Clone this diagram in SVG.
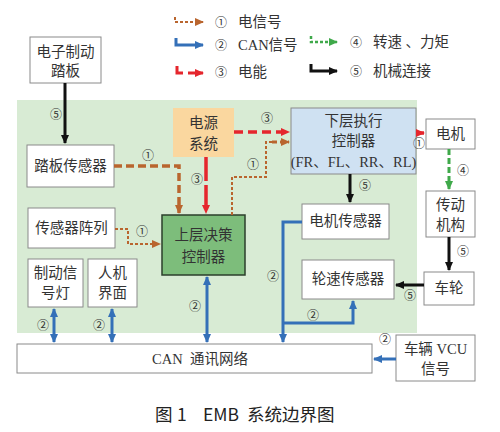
<svg xmlns="http://www.w3.org/2000/svg" width="500" height="432" viewBox="0 0 500 432">
<defs>
<style>
.box{fill:#fff;stroke:#8a8a8a;stroke-width:1}
.t{font-family:"Liberation Serif","Noto Sans CJK SC",serif;font-size:14.5px;fill:#333;text-anchor:middle}
.n{font-family:"Liberation Serif","Noto Sans CJK SC",serif;font-size:12px;fill:#333;text-anchor:middle}
.lg{font-family:"Liberation Serif","Noto Sans CJK SC",serif;font-size:14.5px;fill:#333}
.cap{font-family:"Noto Sans CJK SC","Liberation Sans",sans-serif;font-size:17.5px;fill:#222}
.brD{fill:none;stroke:#b9652e;stroke-width:3.5;stroke-dasharray:8 4}
.brd{fill:none;stroke:#b9652e;stroke-width:2;stroke-dasharray:3 2}
.red{fill:none;stroke:#e5262d;stroke-width:3.5;stroke-dasharray:9 5}
.blu{fill:none;stroke:#3470b8;stroke-width:3}
.grn{fill:none;stroke:#3fa94a;stroke-width:3;stroke-dasharray:6 3}
.blk{fill:none;stroke:#111;stroke-width:3}
</style>
<marker id="aBr" markerWidth="9" markerHeight="8" refX="8" refY="4" orient="auto" markerUnits="userSpaceOnUse"><path d="M0,0 L9,4 L0,8 Z" fill="#b9652e"/></marker>
<marker id="aRd" markerWidth="9" markerHeight="8" refX="8" refY="4" orient="auto" markerUnits="userSpaceOnUse"><path d="M0,0 L9,4 L0,8 Z" fill="#e5262d"/></marker>
<marker id="aBl" markerWidth="9" markerHeight="8" refX="8" refY="4" orient="auto" markerUnits="userSpaceOnUse"><path d="M0,0 L9,4 L0,8 Z" fill="#3470b8"/></marker>
<marker id="aBls" markerWidth="9" markerHeight="8" refX="1" refY="4" orient="auto" markerUnits="userSpaceOnUse"><path d="M9,0 L0,4 L9,8 Z" fill="#3470b8"/></marker>
<marker id="aGr" markerWidth="9" markerHeight="8" refX="8" refY="4" orient="auto" markerUnits="userSpaceOnUse"><path d="M0,0 L9,4 L0,8 Z" fill="#3fa94a"/></marker>
<marker id="aBk" markerWidth="9" markerHeight="8" refX="8" refY="4" orient="auto" markerUnits="userSpaceOnUse"><path d="M0,0 L9,4 L0,8 Z" fill="#111"/></marker>
</defs>
<rect width="500" height="432" fill="#fff"/>
<rect x="17" y="100" width="400" height="233" fill="#d8ebd4"/>

<g id="legend">
<path class="brd" d="M175,17 V22 H203" marker-end="url(#aBr)"/>
<text class="n" x="221" y="27">①</text><text class="lg" x="238" y="27">电信号</text>
<path class="blu" d="M176,38 V45 H203" marker-end="url(#aBl)"/>
<text class="n" x="221" y="50">②</text><text class="lg" x="238" y="50">CAN信号</text>
<path class="red" d="M177,66 V73 H183 M188,73 H203" style="stroke-dasharray:none;stroke-width:3" marker-end="url(#aRd)"/>
<text class="n" x="221" y="77">③</text><text class="lg" x="238" y="77">电能</text>
<path class="grn" d="M311,36 V42 H337" style="stroke-dasharray:3 2;stroke-width:2.5" marker-end="url(#aGr)"/>
<text class="n" x="356" y="47">④</text><text class="lg" x="373" y="47">转速 、力矩</text>
<path class="blk" d="M311,64 V71 H337" marker-end="url(#aBk)"/>
<text class="n" x="356" y="76">⑤</text><text class="lg" x="373" y="76">机械连接</text>
</g>

<g id="pedal"><rect class="box" x="30" y="37" width="71" height="46"/><text class="t" x="65.5" y="57">电子制动</text><text class="t" x="65.5" y="76">踏板</text></g>
<g id="pedalSensor"><rect class="box" x="27" y="145" width="87" height="42"/><text class="t" x="70.5" y="171">踏板传感器</text></g>
<g id="sensorArray"><rect class="box" x="28" y="208" width="87" height="40"/><text class="t" x="71.5" y="233">传感器阵列</text></g>
<g id="brakeLight"><rect class="box" x="28" y="259" width="55" height="48"/><text class="t" x="55.5" y="278">制动信</text><text class="t" x="55.5" y="298">号灯</text></g>
<g id="hmi"><rect class="box" x="88" y="259" width="49" height="48"/><text class="t" x="112.5" y="278">人机</text><text class="t" x="112.5" y="298">界面</text></g>
<g id="power"><rect x="173" y="108" width="61" height="49" fill="#fad79f"/><text class="t" x="203.5" y="128">电源</text><text class="t" x="203.5" y="149">系统</text></g>
<g id="upperCtrl"><rect x="162" y="215" width="83" height="60" fill="#7dbd7b" stroke="#2b3f2b" stroke-width="1.5"/><text class="t" x="203.5" y="240">上层决策</text><text class="t" x="203.5" y="262">控制器</text></g>
<g id="lowerCtrl"><rect x="291" y="108" width="125" height="66" fill="#cfe1f2" stroke="#8a8a8a"/><text class="t" x="353.5" y="126">下层执行</text><text class="t" x="353.5" y="146">控制器</text><text class="t" x="353.5" y="167">(FR、FL、RR、RL)</text></g>
<g id="motor"><rect class="box" x="426" y="119" width="49" height="30"/><text class="t" x="450.5" y="139">电机</text></g>
<g id="transmission"><rect class="box" x="426" y="191" width="49" height="46"/><text class="t" x="450.5" y="210">传动</text><text class="t" x="450.5" y="230">机构</text></g>
<g id="wheel"><rect class="box" x="424" y="272" width="50" height="33"/><text class="t" x="449" y="293">车轮</text></g>
<g id="motorSensor"><rect class="box" x="302" y="204" width="87" height="35"/><text class="t" x="345.5" y="226">电机传感器</text></g>
<g id="wheelSensor"><rect class="box" x="302" y="260" width="92" height="39"/><text class="t" x="348" y="284">轮速传感器</text></g>
<g id="can"><rect class="box" x="17" y="344" width="355" height="29"/><text class="t" x="200" y="364" xml:space="preserve">CAN  通讯网络</text></g>
<g id="vcu"><rect class="box" x="396" y="335" width="79" height="46"/><text class="t" x="435.5" y="354">车辆 VCU</text><text class="t" x="435.5" y="374">信号</text></g>

<g id="connectors">
<path class="blk" d="M65,83 V143" marker-end="url(#aBk)"/>
<text class="n" x="56" y="119">⑤</text>
<path class="brD" d="M114,166 H179 V213" marker-end="url(#aBr)"/>
<text class="n" x="148" y="160">①</text>
<path class="brd" d="M115,229 H128 V244 H160" marker-end="url(#aBr)"/>
<text class="n" x="142" y="236">①</text>
<path class="red" d="M206,157 V213" style="stroke-dasharray:24 4" marker-end="url(#aRd)"/>
<text class="n" x="197" y="184">③</text>
<path class="red" d="M234,132 H289" marker-end="url(#aRd)"/>
<text class="n" x="267" y="123">③</text>
<path class="brd" d="M232,215 V177 H266 V142 H272"/>
<path class="brD" d="M272,142 H289" style="stroke-width:3;stroke-dasharray:5 3" marker-end="url(#aBr)"/>
<text class="n" x="253" y="169">①</text>
<path class="red" d="M416,133 H424" style="stroke-dasharray:none" marker-end="url(#aRd)"/>
<text class="n" x="419" y="148">①</text>
<path class="grn" d="M449,149 V189" marker-end="url(#aGr)"/>
<text class="n" x="463" y="175">④</text>
<path class="blk" d="M350,174 V202" marker-end="url(#aBk)"/>
<text class="n" x="365" y="190">⑤</text>
<path class="blk" d="M449,237 V270" marker-end="url(#aBk)"/>
<text class="n" x="463" y="256">⑤</text>
<path class="blk" d="M424,285 H396" marker-end="url(#aBk)"/>
<text class="n" x="410" y="300">⑤</text>
<path class="blu" d="M302,222 H283 V342" marker-end="url(#aBl)"/>
<path class="blu" d="M283,323 H353 V301" marker-end="url(#aBl)"/>
<text class="n" x="273" y="281">②</text>
<text class="n" x="313" y="320">②</text>
<path class="blu" d="M207,277 V342" marker-start="url(#aBls)" marker-end="url(#aBl)"/>
<text class="n" x="195" y="311">②</text>
<path class="blu" d="M54,309 V342" marker-start="url(#aBls)" marker-end="url(#aBl)"/>
<text class="n" x="43" y="330">②</text>
<path class="blu" d="M112,309 V342" marker-start="url(#aBls)" marker-end="url(#aBl)"/>
<text class="n" x="99" y="330">②</text>
<path class="blu" d="M396,359 H374" marker-end="url(#aBl)"/>
<text class="n" x="385" y="344">②</text>
</g>

<g id="caption">
<text class="cap" x="155" y="421">图</text>
<text class="cap" x="177" y="421">1</text>
<text class="cap" x="203" y="421">EMB</text>
<text class="cap" x="247" y="421">系统边界图</text>
</g>
</svg>
